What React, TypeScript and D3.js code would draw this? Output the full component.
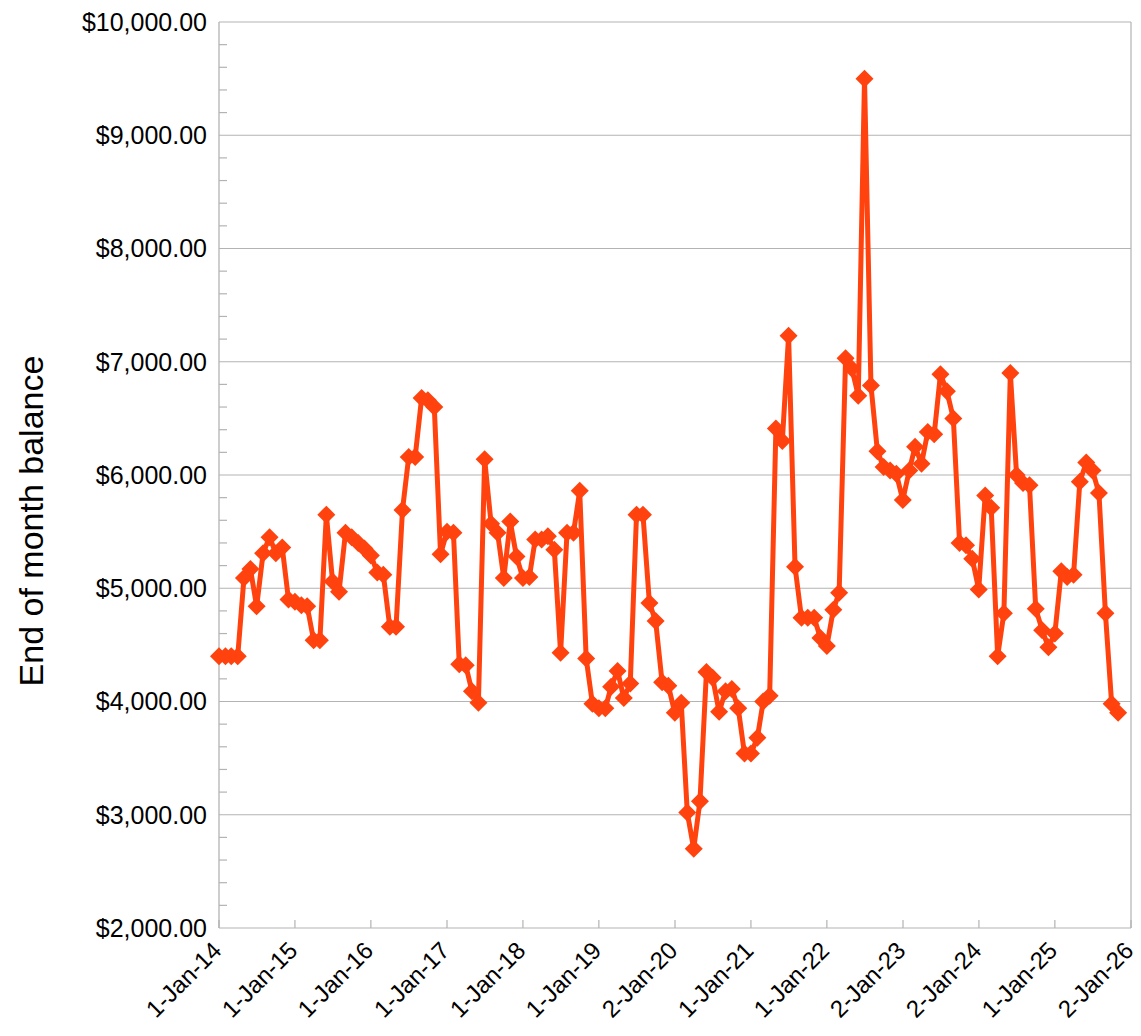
import React from "react";
import * as d3 from "d3";

// x axis tick labels, as printed under the chart
const xTickLabels = [
  "1-Jan-14", "1-Jan-15", "1-Jan-16", "1-Jan-17", "1-Jan-18", "1-Jan-19", "2-Jan-20",
  "1-Jan-21", "1-Jan-22", "2-Jan-23", "2-Jan-24", "1-Jan-25", "2-Jan-26",
];

const yTickValues = [2000, 3000, 4000, 5000, 6000, 7000, 8000, 9000, 10000];

// end of month balance, one value per month from Jan 2014
const balances = [
  4400, 4400, 4400, 4400, 5090, 5170, 4840, 5310, 5450, 5310, 5360, 4900,
  4880, 4850, 4840, 4540, 4540, 5650, 5060, 4970, 5490, 5450, 5400, 5350,
  5290, 5140, 5120, 4660, 4660, 5690, 6160, 6160, 6680, 6660, 6600, 5300,
  5500, 5490, 4330, 4320, 4090, 3990, 6140, 5570, 5490, 5090, 5590, 5280,
  5090, 5100, 5430, 5430, 5460, 5340, 4430, 5490, 5490, 5860, 4380, 3980,
  3940, 3940, 4130, 4270, 4030, 4160, 5650, 5650, 4870, 4710, 4170, 4140,
  3900, 3990, 3020, 2700, 3120, 4260, 4210, 3910, 4090, 4110, 3940, 3540,
  3540, 3680, 4000, 4050, 6410, 6300, 7230, 5190, 4740, 4740, 4740, 4560,
  4490, 4810, 4960, 7030, 6940, 6700, 9500, 6790, 6210, 6070, 6040, 6010,
  5780, 6040, 6250, 6100, 6380, 6360, 6890, 6740, 6500, 5400, 5380, 5260,
  4990, 5820, 5710, 4400, 4780, 6900, 6000, 5930, 5910, 4820, 4630, 4480,
  4600, 5150, 5100, 5120, 5940, 6110, 6040, 5840, 4780, 3980, 3900,
];

const width = 1141;
const height = 1036;
const margin = { top: 22, right: 10, bottom: 108, left: 219 };
const lineColor = "#ff420e";
const gridColor = "#b3b3b3";
const font = "'Liberation Sans', Arial, sans-serif";

const parseTick = d3.timeParse("%-d-%b-%y");

const App: React.FC = () => {
  const tickDates = xTickLabels.map((l) => parseTick(l) as Date);
  const start = tickDates[0];
  const monthDates = d3.timeMonth.range(start, d3.timeMonth.offset(start, balances.length));
  const data = balances.map((v, i) => ({ date: monthDates[i], value: v }));

  const x = d3
    .scaleTime()
    .domain([start, tickDates[tickDates.length - 1]])
    .range([margin.left, width - margin.right]);

  const y = d3
    .scaleLinear()
    .domain([2000, 10000])
    .range([height - margin.bottom, margin.top]);

  const line = d3
    .line<{ date: Date; value: number }>()
    .x((d) => x(d.date))
    .y((d) => y(d.value));

  const minorTicks = d3.range(2000, 10001, 200).filter((v) => v % 1000 !== 0);
  const fmt = d3.format("$,.2f");
  const r = 9;
  const diamond = `M0,${-r}L${r},0L0,${r}L${-r},0Z`;
  const x0 = margin.left;
  const x1 = width - margin.right;
  const yBottom = height - margin.bottom;

  return (
    <svg
      width={width}
      height={height}
      style={{ position: "absolute", left: 0, top: 0, background: "#fff" }}
      fontFamily={font}
    >
      {/* horizontal grid */}
      {yTickValues.map((v) => (
        <line key={v} x1={x0} x2={x1} y1={y(v)} y2={y(v)} stroke={gridColor} strokeWidth={1.2} />
      ))}
      {/* plot border: left axis + right edge */}
      <line x1={x0} x2={x0} y1={margin.top} y2={yBottom} stroke={gridColor} strokeWidth={1.3} />
      <line x1={x1} x2={x1} y1={margin.top} y2={yBottom} stroke={gridColor} strokeWidth={1.2} />
      {/* minor y ticks, pointing inwards */}
      {minorTicks.map((v) => (
        <line key={v} x1={x0} x2={x0 + 8} y1={y(v)} y2={y(v)} stroke={gridColor} strokeWidth={1.2} />
      ))}
      {/* x ticks, pointing inwards */}
      {tickDates.map((d, i) => (
        <line key={i} x1={x(d)} x2={x(d)} y1={yBottom} y2={yBottom - 8} stroke={gridColor} strokeWidth={1.2} />
      ))}

      {/* y labels */}
      {yTickValues.map((v) => (
        <text key={v} x={207} y={y(v)} dy="0.35em" textAnchor="end" fontSize={25} fill="#000">
          {fmt(v)}
        </text>
      ))}
      {/* x labels */}
      {tickDates.map((d, i) => (
        <text
          key={i}
          transform={`translate(${x(d) - 2},${yBottom + 18}) rotate(-45)`}
          dy="0.35em"
          textAnchor="end"
          fontSize={24}
          fill="#000"
        >
          {xTickLabels[i]}
        </text>
      ))}

      <text
        transform={`translate(31,${(margin.top + yBottom) / 2 + 46}) rotate(-90)`}
        dy="0.35em"
        textAnchor="middle"
        fontSize={34}
        fill="#000"
      >
        End of month balance
      </text>

      <path d={line(data) ?? ""} fill="none" stroke={lineColor} strokeWidth={5} strokeLinejoin="round" />
      {data.map((d, i) => (
        <path key={i} d={diamond} transform={`translate(${x(d.date)},${y(d.value)})`} fill={lineColor} />
      ))}
    </svg>
  );
};

export default App;
